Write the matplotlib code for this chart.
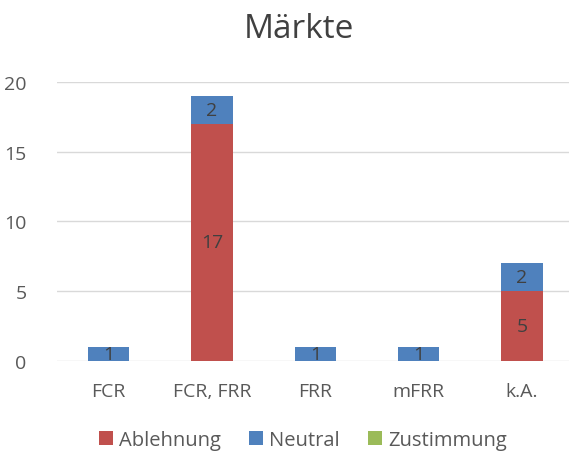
import numpy as np
import matplotlib.pyplot as plt

plt.rcParams['font.family'] = ['Open Sans', 'DejaVu Sans']

categories = ['FCR', 'FCR, FRR', 'FRR', 'mFRR', 'k.A.']
ablehnung = [0, 17, 0, 0, 5]
neutral = [1, 2, 1, 1, 2]
zustimmung = [0, 0, 0, 0, 0]

c_red = '#C0504D'
c_blue = '#4F81BD'
c_green = '#9BBB59'
txt = '#404040'

fig = plt.figure(figsize=(5.69, 4.56), dpi=100)
ax = fig.add_axes([57/569, 1-361.7/456, 1-57/569, (361.7-83)/456])

x = np.arange(len(categories))
w = 0.4
b1 = ax.bar(x, ablehnung, w, color=c_red, label='Ablehnung', zorder=3)
b2 = ax.bar(x, neutral, w, bottom=ablehnung, color=c_blue, label='Neutral', zorder=3)
bot3 = np.array(ablehnung) + np.array(neutral)
b3 = ax.bar(x, zustimmung, w, bottom=bot3, color=c_green, label='Zustimmung', zorder=3)

# data labels, centred in each segment
for i in range(len(categories)):
    if ablehnung[i] > 0:
        ax.text(x[i], ablehnung[i]/2, str(ablehnung[i]), ha='center', va='center',
                fontsize=14, color=txt, zorder=4)
    if neutral[i] > 0:
        ax.text(x[i], ablehnung[i] + neutral[i]/2, str(neutral[i]), ha='center', va='center',
                fontsize=14, color=txt, zorder=4)

ax.set_xlim(-0.5, 4.454)
ax.set_ylim(0, 20)
ax.set_yticks([0, 5, 10, 15, 20])
ax.set_xticks(x)
ax.set_xticklabels(categories)
ax.tick_params(axis='both', length=0, labelsize=14, colors='#595959')
ax.tick_params(axis='x', pad=15)
ax.tick_params(axis='y', pad=22)
ax.grid(axis='y', color='#D9D9D9', linewidth=1, zorder=0)
for s in ax.spines.values():
    s.set_visible(False)

fig.text(0.525, 1-30/456, 'Märkte', ha='center', va='center', fontsize=24, color=txt)

fig.legend(handles=[b1, b2, b3], loc='center', bbox_to_anchor=(0.532, 1-441/456), ncol=3,
           frameon=False, fontsize=14.5, handlelength=0.7, handleheight=0.7,
           handletextpad=0.3, columnspacing=1.4, labelcolor='#595959')

fig.savefig('out.png', dpi=100)
